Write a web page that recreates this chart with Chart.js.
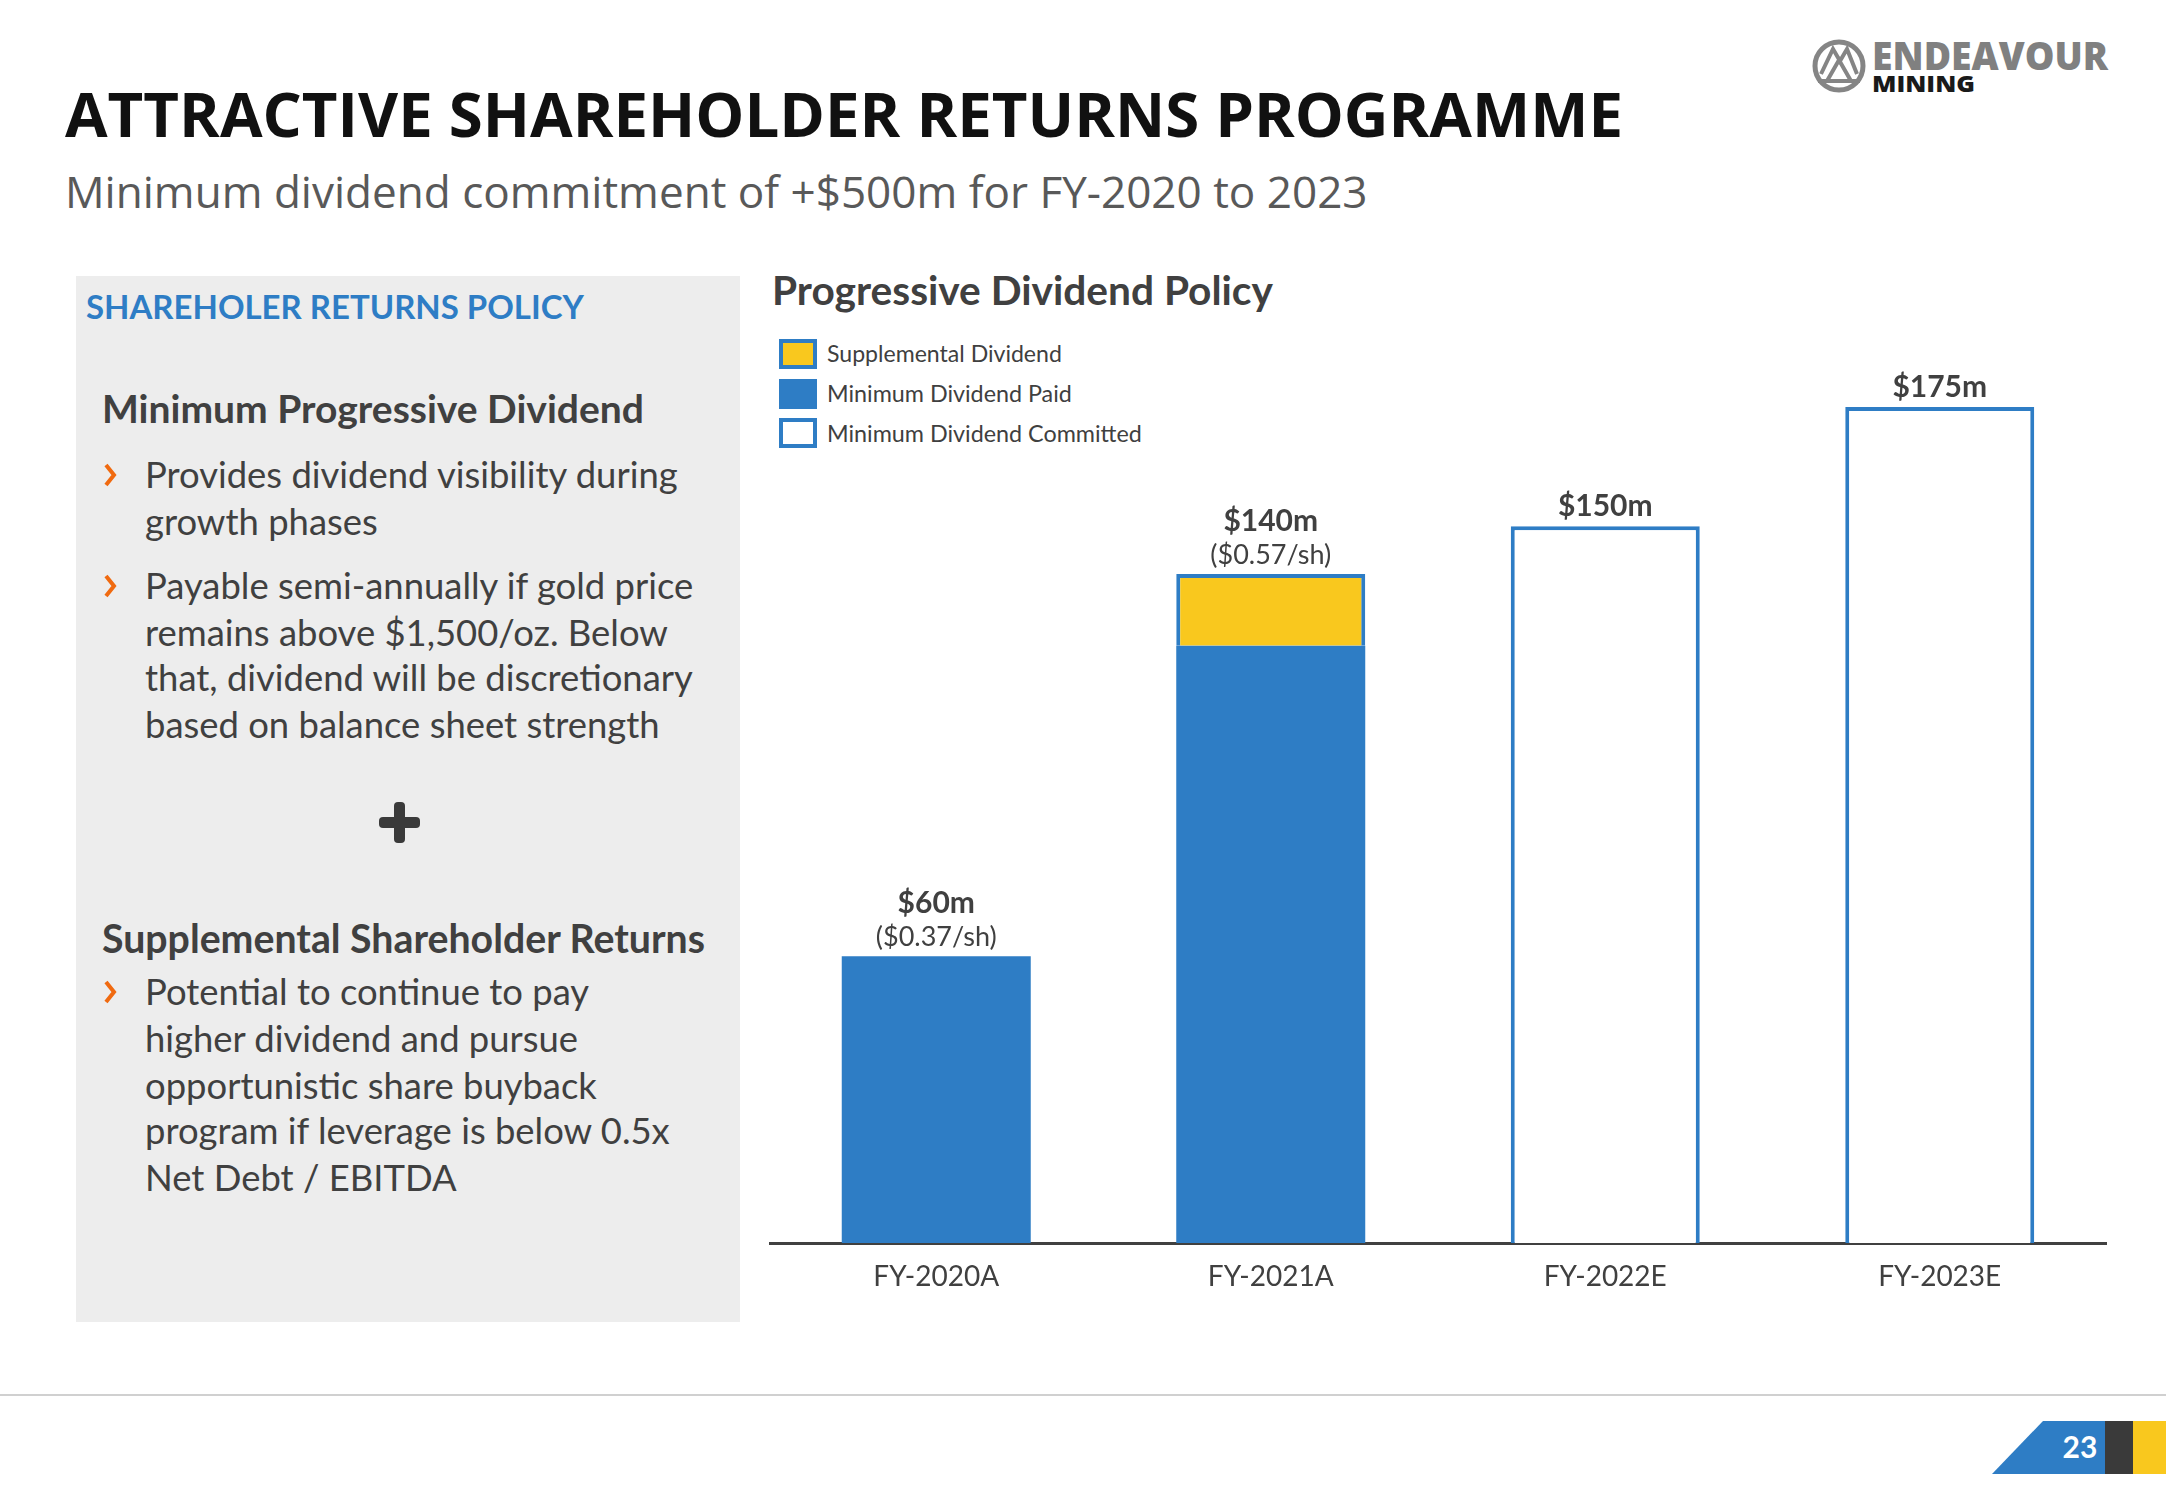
<!DOCTYPE html>
<html>
<head>
<meta charset="utf-8">
<script src="https://cdn.jsdelivr.net/npm/chart.js@4.4.1/dist/chart.umd.min.js"></script>
<style>
  html,body{margin:0;padding:0;background:#fff;}
  body{width:2166px;height:1500px;position:relative;overflow:hidden;font-family:Lato,"Open Sans",sans-serif;color:#404040;}
  .t{position:absolute;white-space:nowrap;line-height:1.2;display:inline-block;}
  .panel{position:absolute;left:76px;top:276px;width:664px;height:1046px;background:#ededed;}
  .chev{position:absolute;left:100px;}
  .lg{position:absolute;left:779px;width:38px;height:30px;box-sizing:border-box;}
  #chartWrap{position:absolute;left:769px;top:300px;}
  .rule{position:absolute;left:0;top:1394px;width:2166px;height:2px;background:#d0d0d0;}
</style>
</head>
<body>

<div class="t" data-cy="113" data-w="1558" style="left:65px;font-family:'Open Sans';font-weight:700;font-size:70px;color:#111">ATTRACTIVE SHAREHOLDER RETURNS PROGRAMME</div>
<div class="t" data-cy="191" data-w="1303" style="left:65px;font-family:'Open Sans';font-size:44px;color:#595959">Minimum dividend commitment of +$500m for FY-2020 to 2023</div>

<svg style="position:absolute;left:1800px;top:30px" width="340" height="80">
  <circle cx="39" cy="36" r="24" fill="none" stroke="#858585" stroke-width="5"/>
  <polyline points="21,44 33,19 40,31 47,19 57,44" fill="none" stroke="#858585" stroke-width="4" stroke-linejoin="miter"/>
  <polyline points="27,51 39,30 51,51" fill="none" stroke="#858585" stroke-width="4"/>
  <line x1="18" y1="51" x2="60" y2="51" stroke="#858585" stroke-width="4"/>
  <text x="72" y="40" font-family="Open Sans" font-weight="800" font-size="39" fill="#808080" textLength="236" lengthAdjust="spacingAndGlyphs">ENDEAVOUR</text>
  <text x="72" y="62" font-family="Open Sans" font-weight="800" font-size="22" fill="#1a1a1a" textLength="103" lengthAdjust="spacingAndGlyphs">MINING</text>
</svg>

<div class="panel"></div>
<div class="t" data-cy="307" data-w="498" style="left:86px;font-weight:700;font-size:34px;color:#2e7dc5">SHAREHOLER RETURNS POLICY</div>
<div class="t" data-cy="408" data-w="542" style="left:102px;font-weight:700;font-size:38px;color:#404040">Minimum Progressive Dividend</div>

<svg class="chev" style="top:462px" width="20" height="26"><polyline points="6,3 14,13 6,23" fill="none" stroke="#f06a10" stroke-width="4"/></svg>
<div class="t bl" data-cy="475" style="left:145px">Provides dividend visibility during</div>
<div class="t bl" data-cy="522" style="left:145px">growth phases</div>
<svg class="chev" style="top:573px" width="20" height="26"><polyline points="6,3 14,13 6,23" fill="none" stroke="#f06a10" stroke-width="4"/></svg>
<div class="t bl" data-cy="586" style="left:145px">Payable semi-annually if gold price</div>
<div class="t bl" data-cy="633" style="left:145px">remains above $1,500/oz. Below</div>
<div class="t bl" data-cy="678" data-ref="548" style="left:145px">that, dividend will be discretionary</div>
<div class="t bl" data-cy="725" style="left:145px">based on balance sheet strength</div>

<svg style="position:absolute;left:379px;top:802px" width="41" height="41">
  <rect x="15" y="0" width="11" height="41" rx="4" fill="#3a3a3a"/>
  <rect x="0" y="15" width="41" height="11" rx="4" fill="#3a3a3a"/>
</svg>

<div class="t" data-cy="938" data-w="603" style="left:102px;font-weight:700;font-size:38px;color:#404040">Supplemental Shareholder Returns</div>
<svg class="chev" style="top:979px" width="20" height="26"><polyline points="6,3 14,13 6,23" fill="none" stroke="#f06a10" stroke-width="4"/></svg>
<div class="t bl" data-cy="992" style="left:145px">Potential to continue to pay</div>
<div class="t bl" data-cy="1039" style="left:145px">higher dividend and pursue</div>
<div class="t bl" data-cy="1086" style="left:145px">opportunistic share buyback</div>
<div class="t bl" data-cy="1131" style="left:145px">program if leverage is below 0.5x</div>
<div class="t bl" data-cy="1178" style="left:145px">Net Debt / EBITDA</div>

<div class="t" data-cy="290" data-w="501" style="left:772px;font-weight:700;font-size:38px;color:#404040">Progressive Dividend Policy</div>
<div id="legend"></div>

<div id="chartWrap"><canvas id="ch" width="1338" height="1000"></canvas></div>

<div class="rule"></div>
<svg style="position:absolute;left:1980px;top:1410px" width="186" height="80">
  <polygon points="12,64 63,11 125,11 125,64" fill="#2e7dc5"/>
  <rect x="125" y="11" width="28" height="53" fill="#3a3a3a"/>
  <rect x="153" y="11" width="33" height="53" fill="#f9c81e"/>
  <text x="100" y="48" text-anchor="middle" font-family="Lato" font-weight="700" font-size="30" fill="#fff">23</text>
</svg>

<script>
// chart data
const years = ['FY-2020A','FY-2021A','FY-2022E','FY-2023E'];
const minPaid = [60, 125, null, null];
const supplemental = [null, 15, null, null];
const committed = [null, null, 150, 175];
const totalLabels = ['$60m','$140m','$150m','$175m'];
const perShare = ['($0.37/sh)','($0.57/sh)','',''];
const legendNames = ['Supplemental Dividend','Minimum Dividend Paid','Minimum Dividend Committed'];

const BLUE='#2e7dc5', YELLOW='#f9c81e', INK='#404040';

// text placement: fit widths where a target is known, then centre on cy
function fitText(){
  const bl=[...document.querySelectorAll('.bl')];
  bl.forEach(el=>{el.style.fontSize='31px';el.style.color=INK;});
  const ref=bl.find(el=>el.dataset.ref);
  const k=ref.dataset.ref/ref.getBoundingClientRect().width;
  bl.forEach(el=>{el.style.fontSize=(31*k)+'px';});
  document.querySelectorAll('.t').forEach(el=>{
    if(el.dataset.w){
      const fs=parseFloat(getComputedStyle(el).fontSize);
      el.style.fontSize=(fs*el.dataset.w/el.getBoundingClientRect().width)+'px';
    }
    const h=el.getBoundingClientRect().height;
    el.style.top=(el.dataset.cy-h/2)+'px';
  });
}

// legend
const lgStyles=[
  'background:'+YELLOW+';border:4px solid '+BLUE,
  'background:'+BLUE,
  'background:#fff;border:4px solid '+BLUE
];
const lgTops=[339,379,418];
let lg='';
legendNames.forEach((n,i)=>{
  lg+=`<div class="lg" style="top:${lgTops[i]}px;${lgStyles[i]}"></div>`;
  lg+=`<div class="t" data-cy="${lgTops[i]+15}" data-w="${i==0?235:(i==1?245:315)}" style="left:827px;font-size:22px;color:${INK}">${n}</div>`;
});
document.getElementById('legend').innerHTML=lg;

const barLabels={
  id:'barLabels',
  afterDatasetsDraw(chart){
    const c=chart.ctx, y=chart.scales.y, x=chart.scales.x;
    c.save();
    c.textAlign='center'; c.textBaseline='middle'; c.fillStyle=INK;
    years.forEach((_,i)=>{
      const tot=(minPaid[i]||0)+(supplemental[i]||0)+(committed[i]||0);
      const top=y.getPixelForValue(tot);
      const cx=x.getPixelForValue(i);
      if(perShare[i]){
        c.font='400 27px Lato';
        c.fillText(perShare[i],cx,top-19);
        c.font='700 30px Lato';
        c.fillText(totalLabels[i],cx,top-53);
      } else {
        c.font='700 30px Lato';
        c.fillText(totalLabels[i],cx,top-20);
      }
    });
    c.restore();
  }
};

function draw(){
  fitText();
  new Chart(document.getElementById('ch'),{
    type:'bar',
    data:{labels:years,datasets:[
      {label:legendNames[1],data:minPaid,backgroundColor:BLUE,borderWidth:0},
      {label:legendNames[0],data:supplemental,backgroundColor:YELLOW,borderColor:BLUE,borderWidth:{top:4,left:4,right:4,bottom:0},borderSkipped:false},
      {label:legendNames[2],data:committed,backgroundColor:'#fff',borderColor:BLUE,borderWidth:{top:4,left:4,right:4,bottom:0},borderSkipped:false}
    ]},
    options:{
      responsive:false,animation:false,events:[],
      layout:{padding:{top:40,left:0,right:0,bottom:0}},
      datasets:{bar:{categoryPercentage:1,barPercentage:0.565}},
      plugins:{legend:{display:false},tooltip:{enabled:false}},
      scales:{
        x:{stacked:true,z:1,grid:{display:false,drawTicks:false},
           border:{display:true,color:INK,width:3},
           ticks:{color:INK,font:{family:'Lato',size:28},padding:17},
           afterFit:s=>{s.height=57;}},
        y:{stacked:true,display:false,min:0,max:189}
      }
    },
    plugins:[barLabels]
  });
}
if(document.fonts&&document.fonts.load){
  Promise.all(['400 20px Lato','700 20px Lato','900 20px Lato','400 20px "Open Sans"','700 20px "Open Sans"','800 20px "Open Sans"'].map(f=>document.fonts.load(f))).then(draw,draw);
} else draw();
</script>
</body>
</html>
